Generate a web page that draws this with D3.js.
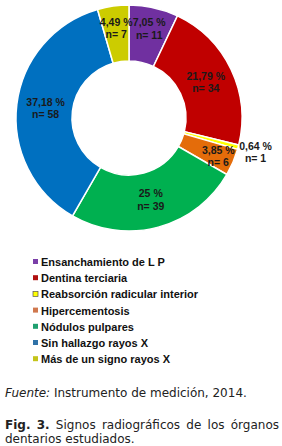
<!DOCTYPE html>
<html><head><meta charset="utf-8">
<script src="https://cdn.jsdelivr.net/npm/d3@7"></script>
<style>body{margin:0;background:#fff}svg{display:block}</style>
</head><body>
<svg id="c" width="282" height="446"></svg>
<script>
const categories = ["Ensanchamiento de L P","Dentina terciaria","Reabsorción radicular interior","Hipercementosis","Nódulos pulpares","Sin hallazgo rayos X","Más de un signo rayos X"];
const percents = [7.05, 21.79, 0.64, 3.85, 25, 37.18, 4.49];
const counts = [11, 34, 1, 6, 39, 58, 7];
const colors = ["#7030A0","#C00000","#FFFF00","#E46C0A","#00B050","#0070C0","#CCCC00"];
const legendColors = ["#7A3FA8","#B01010","#FFFF00","#D0784E","#1FA070","#2F72A8","#C4C41A"];
const labelR = [92, 85, 131, 97, 84, 84, 91];

const svg = d3.select("#c");
const cx = 129, cy = 118, rO = 113, rI = 57;
const data = percents.map((p,i)=>({p, n:counts[i], c:colors[i], i}));
const pie = d3.pie().value(d=>d.p).sort(null);
const arc = d3.arc().innerRadius(rI).outerRadius(rO);
const g = svg.append("g").attr("transform",`translate(${cx},${cy})`);
const arcs = pie(data);
g.selectAll("path").data(arcs).join("path")
  .attr("d",arc).attr("fill",d=>d.data.c)
  .attr("stroke","#fff").attr("stroke-width",1.5);
const fmt = v => String(v).replace(".",",");
arcs.forEach((a,i)=>{
  const ang = (a.startAngle+a.endAngle)/2;
  const x = Math.sin(ang)*labelR[i], y = -Math.cos(ang)*labelR[i];
  const t = g.append("text").attr("text-anchor","middle")
    .attr("font-family","Liberation Sans, Arial, sans-serif").attr("font-weight","bold")
    .attr("font-size",10.5).attr("fill", "#1a1a1a");
  t.append("tspan").attr("x",x).attr("y",y-2).text(fmt(a.data.p)+" %");
  t.append("tspan").attr("x",x).attr("y",y+10.5).text("n= "+(i===2?" ":"")+a.data.n);
});

// legend
const lg = svg.append("g");
categories.forEach((c,i)=>{
  const y = 262 + i*16.2;
  lg.append("rect").attr("x",33).attr("y",y-3).attr("width",5).attr("height",5)
    .attr("fill",legendColors[i]).attr("stroke", i===2?"#555":"none").attr("stroke-width",0.7);
  lg.append("text").attr("x",41).attr("y",y+4)
    .attr("font-family","Liberation Sans, Arial, sans-serif").attr("font-weight","bold")
    .attr("font-size",11).attr("fill","#111").text(c);
});

// caption
const cap = svg.append("text").attr("x",5).attr("y",397)
  .attr("font-family","DejaVu Sans, Verdana, sans-serif").attr("font-size",12).attr("fill","#222");
cap.append("tspan").attr("font-style","italic").text("Fuente:");
cap.append("tspan").text(" Instrumento de medición, 2014.");

// justified figure line
const words = [["Fig.",true],["3.",true],["Signos",false],["radiográficos",false],["de",false],["los",false],["órganos",false]];
const x0 = 5, x1 = 279, fy = 429;
const nodes = words.map(([w,b])=> svg.append("text").attr("y",fy)
  .attr("font-family","DejaVu Sans, Verdana, sans-serif").attr("font-size",12)
  .attr("font-weight",b?"bold":"normal").attr("fill","#222").text(w));
const widths = nodes.map(n=>n.node().getComputedTextLength());
const total = d3.sum(widths);
const gap = (x1-x0-total)/(words.length-1);
let xx = x0;
nodes.forEach((n,i)=>{ n.attr("x",xx); xx += widths[i]+gap; });
svg.append("text").attr("x",5).attr("y",443)
  .attr("font-family","DejaVu Sans, Verdana, sans-serif").attr("font-size",12).attr("fill","#222")
  .text("dentarios estudiados.");
</script>
</body></html>
